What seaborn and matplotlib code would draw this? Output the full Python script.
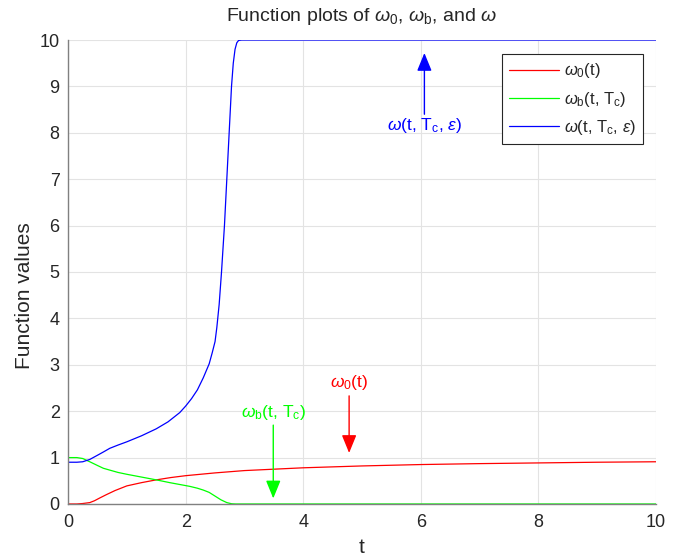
import numpy as np
import pandas as pd
import matplotlib
matplotlib.use("Agg")
import matplotlib.pyplot as plt
import seaborn as sns

# --- data ---
t_w0 = [0.0, 0.15, 0.25, 0.37, 0.45, 0.54, 0.65, 0.8, 1.0, 1.25, 1.5, 1.75, 2.0, 2.5, 3.0,
        3.5, 4.0, 4.5, 5.0, 6.0, 7.0, 8.0, 9.0, 10.0]
w0 = [0.0, 0.0, 0.01, 0.03, 0.07, 0.13, 0.2, 0.29, 0.39, 0.46, 0.52, 0.57, 0.61, 0.67, 0.72,
      0.75, 0.78, 0.8, 0.82, 0.85, 0.87, 0.885, 0.9, 0.91]

t_wb = [0.0, 0.15, 0.25, 0.37, 0.5, 0.6, 0.71, 0.85, 1.0, 1.25, 1.5, 1.73, 1.9, 2.07, 2.2,
        2.3, 2.4, 2.5, 2.6, 2.7, 2.78, 2.85, 10.0]
wb = [1.0, 1.0, 0.98, 0.91, 0.83, 0.77, 0.73, 0.68, 0.64, 0.58, 0.52, 0.46, 0.42, 0.38, 0.34,
      0.30, 0.25, 0.17, 0.09, 0.03, 0.005, 0.0, 0.0]

t_w = [0.0, 0.15, 0.25, 0.37, 0.5, 0.6, 0.71, 0.85, 1.0, 1.25, 1.5, 1.7, 1.9, 2.0, 2.1,
       2.2, 2.3, 2.4, 2.45, 2.5, 2.53, 2.57, 2.61, 2.66, 2.70, 2.74, 2.78, 2.81, 2.84,
       2.87, 2.9, 2.95, 10.0]
w = [0.9, 0.9, 0.91, 0.96, 1.05, 1.12, 1.2, 1.27, 1.34, 1.47, 1.62, 1.77, 1.97, 2.11, 2.27,
     2.46, 2.72, 3.02, 3.25, 3.5, 3.8, 4.3, 5.0, 6.0, 7.0, 8.0, 9.0, 9.5, 9.8,
     9.94, 9.99, 10.0, 10.0]

labels = [r"$\omega_\mathrm{0}$(t)", r"$\omega_\mathrm{b}$(t, T$_\mathrm{c}$)",
          r"$\omega$(t, T$_\mathrm{c}$, $\varepsilon$)"]
colors = ["#ff0000", "#00ff00", "#0000ff"]

# annotation arrows: (x, text y, tail y, tip y)
notes = [
    (4.78, 2.62, 2.33, 1.1),
    (3.49, 1.97, 1.7, 0.12),
    (6.06, 8.15, 8.4, 9.72),
]

sns.set_style("whitegrid")
plt.rcParams["font.family"] = ["Liberation Sans", "DejaVu Sans"]
plt.rcParams["mathtext.fontset"] = "custom"
plt.rcParams["mathtext.rm"] = "Liberation Sans"
plt.rcParams["mathtext.it"] = "Liberation Sans:italic"

df = pd.concat([
    pd.DataFrame({"t": t_w0, "v": w0, "f": labels[0]}),
    pd.DataFrame({"t": t_wb, "v": wb, "f": labels[1]}),
    pd.DataFrame({"t": t_w, "v": w, "f": labels[2]}),
])

fig = plt.figure(figsize=(6.83, 5.58), dpi=100)
ax = fig.add_axes([0.0996, 0.0968, 0.861, 0.8315])
sns.lineplot(data=df, x="t", y="v", hue="f", palette=colors, hue_order=labels,
             sort=False, estimator=None, lw=0.9, ax=ax)

ax.set_xlim(0, 10)
ax.set_ylim(0, 10)
ax.set_xticks(range(0, 11, 2))
ax.set_yticks(range(0, 11))
ax.grid(True, color="#e3e3e3", lw=0.8)
for s in ["top", "right"]:
    ax.spines[s].set_visible(False)
for s in ["left", "bottom"]:
    ax.spines[s].set_color("#808080")
    ax.spines[s].set_linewidth(1.0)
ax.tick_params(axis="both", direction="in", length=4, color="#808080",
               labelsize=13, labelcolor="#262626")
ax.tick_params(axis="x", pad=7)
ax.tick_params(axis="y", pad=6)

ax.set_title(r"Function plots of $\omega_\mathrm{0}$, $\omega_\mathrm{b}$, and $\omega$",
             fontsize=14, pad=14)
ax.set_xlabel("t", fontsize=15, color="#262626", labelpad=5)
ax.set_ylabel("Function values", fontsize=15, color="#262626")
ax.yaxis.set_label_coords(-0.058, 0.45)

for (x, ty, tail, tip), lab, c in zip(notes, labels, colors):
    ax.annotate("", xy=(x, tip), xytext=(x, tail),
                arrowprops=dict(arrowstyle="-|>,head_length=1.1,head_width=0.45",
                                color=c, lw=1.0, shrinkA=0, shrinkB=0))
    ax.text(x, ty, lab, color=c, fontsize=12.5, ha="center", va="center")

leg = ax.legend(loc="upper right", bbox_to_anchor=(0.978, 0.97), fontsize=12,
                handlelength=3.0, handletextpad=0.25, frameon=True, fancybox=False,
                framealpha=1, borderpad=0.45, labelspacing=0.55, borderaxespad=0,
                title=None)
leg.get_frame().set_edgecolor("#262626")
leg.get_frame().set_linewidth(0.8)

fig.savefig("out.png", dpi=100)
